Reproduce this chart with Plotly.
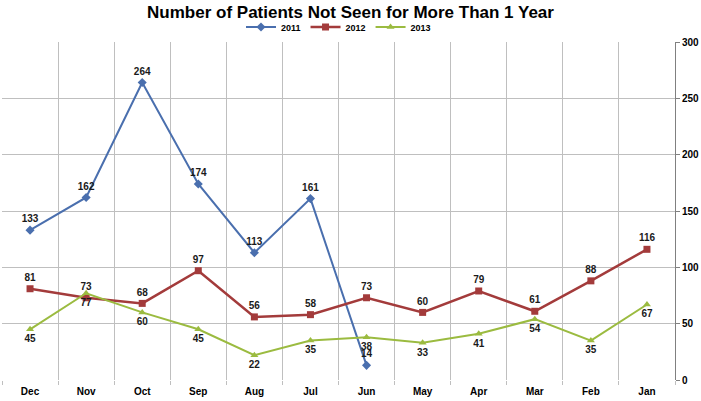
import plotly.graph_objects as go

months = ["Dec", "Nov", "Oct", "Sep", "Aug", "Jul", "Jun", "May", "Apr", "Mar", "Feb", "Jan"]
y2011 = [133, 162, 264, 174, 113, 161, 14]
y2012 = [81, 73, 68, 97, 56, 58, 73, 60, 79, 61, 88, 116]
y2013 = [45, 77, 60, 45, 22, 35, 38, 33, 41, 54, 35, 67]
y2011_pts = [133, 162, 264, 174, 113, 161, 13]

FONT = "Liberation Sans Narrow, Liberation Sans, Arial"
W, H = 701, 401
L, R, T, B = 2, 21, 42, 21

fig = go.Figure()
fig.add_trace(go.Scatter(
    x=months[:len(y2011)], y=y2011_pts, name="2011", mode="lines+markers+text",
    line=dict(color="#4A6FAE", width=2), marker=dict(symbol="diamond", size=7, color="#4A6FAE"),
    text=[str(v) for v in y2011], textposition="top center",
    textfont=dict(family=FONT, size=10, color="#1a1a1a", weight="bold"),
))
fig.add_trace(go.Scatter(
    x=months, y=y2012, name="2012", mode="lines+markers+text",
    line=dict(color="#A33B3B", width=2.5), marker=dict(symbol="square", size=7, color="#A33B3B"),
    text=[str(v) for v in y2012], textposition="top center",
    textfont=dict(family=FONT, size=10, color="#1a1a1a", weight="bold"),
))
fig.add_trace(go.Scatter(
    x=months, y=y2013, name="2013", mode="lines+markers+text",
    line=dict(color="#9BBB40", width=2), marker=dict(symbol="triangle-up", size=7, color="#9BBB40"),
    text=[str(v) for v in y2013], textposition="bottom center",
    textfont=dict(family=FONT, size=10, color="#1a1a1a", weight="bold"),
))

fig.update_layout(
    width=W, height=H,
    margin=dict(l=L, r=R, t=T, b=B),
    paper_bgcolor="white", plot_bgcolor="white",
    title=dict(text="<b>Number of Patients Not Seen for More Than 1 Year</b>",
               x=0.5, xanchor="center", yref="container", y=1 - 12 / H, yanchor="middle",
               font=dict(family=FONT, size=17, color="black")),
    legend=dict(orientation="h", x=0.5, xanchor="center", y=1 + 15 / (H - T - B), yanchor="middle",
                font=dict(family=FONT, size=9, color="black", weight="bold"), itemwidth=30,
                tracegroupgap=0, bgcolor="rgba(0,0,0,0)"),
    showlegend=True,
    xaxis=dict(type="category", categoryorder="array", categoryarray=months,
               tickson="boundaries", showgrid=True, gridcolor="#BFBFBF", gridwidth=1,
               ticks="outside", ticklen=4, tickcolor="#BFBFBF", ticklabelstandoff=4,
               showline=False, zeroline=False,
               tickfont=dict(family=FONT, size=10, color="black", weight="bold"),
               range=[-0.5, 11.5]),
    yaxis=dict(side="right", range=[0, 300], dtick=50, showgrid=True, gridcolor="#BFBFBF",
               gridwidth=1, ticks="outside", ticklen=4, tickcolor="#808080",
               showline=True, linecolor="#808080", linewidth=1, zeroline=False,
               tickfont=dict(family=FONT, size=10, color="black", weight="bold")),
)

fig.write_html("out.html", config={"displayModeBar": False},
               post_script="document.body.style.margin='0';")
